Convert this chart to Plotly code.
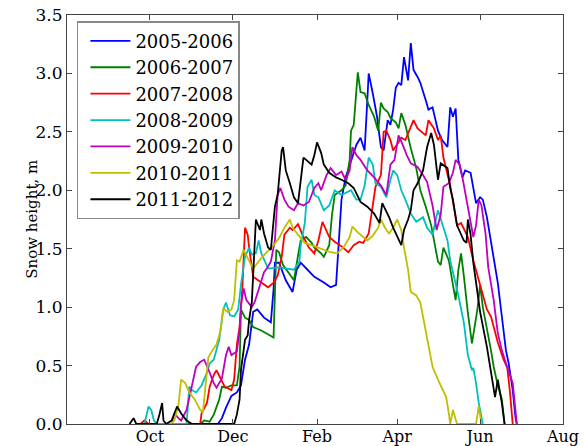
import pandas as pd
import plotly.graph_objects as go

# Season labels and colours
seasons = ["2005-2006", "2006-2007", "2007-2008", "2008-2009",
           "2009-2010", "2010-2011", "2011-2012"]
colors = ["#0000ff", "#008000", "#ff0000", "#00bfbf", "#bf00bf", "#bfbf00", "#000000"]

# Day of season (days since 1 Aug) and snow height (m)
day_0506 = [106,111,114,117,121,125,128,131,134,137,140,145,150,152,153,156,161,166,169,172,177,182,189,194,198,200,202,205,209,213,216,219,221,222,225,228,231,233,236,238,240,242,244,246,248,251,253,255,258,260,264,266,269,273,276,280,282,284,286,288,291,293,297,301,304,306,309,313,317,320,323,325,328,330,331]
h_0506 = [0,0,0.05,0.14,0.24,0.27,0.33,0.55,0.68,0.96,0.98,0.91,0.87,1.15,1.38,1.38,1.23,1.13,1.32,1.38,1.32,1.26,1.21,1.17,1.19,1.57,1.92,2.11,2.26,2.39,2.45,2.34,2.77,3.00,2.83,2.64,2.37,2.34,2.60,2.56,2.69,2.88,2.92,2.90,3.14,2.94,3.26,3.03,2.97,2.92,2.77,2.69,2.71,2.51,2.43,2.37,2.71,2.63,2.70,2.26,2.11,2.17,2.15,1.89,1.94,1.92,1.77,1.49,1.21,0.92,0.63,0.52,0.29,0.06,0]

day_0607 = [98,101,105,108,112,114,117,121,125,127,128,131,134,137,143,149,152,154,156,159,163,167,171,172,176,180,182,187,189,193,195,197,202,205,208,209,211,214,216,219,222,226,229,231,233,236,238,242,244,246,249,253,257,260,264,268,273,275,277,281,284,286,288,290,292,295,298,302,304,306,312,314,317,320,322]
h_0607 = [0,0.03,0.02,0.08,0.21,0.32,0.31,0.33,0.33,0.49,0.98,0.91,0.89,0.83,0.80,0.76,0.74,1.49,1.47,1.36,1.29,1.23,1.51,1.57,1.60,1.55,1.51,1.46,1.43,1.53,1.79,1.96,2.00,2.04,2.26,2.51,2.56,3.01,2.84,2.83,2.73,2.63,2.51,2.75,2.70,2.67,2.62,2.58,2.53,2.66,2.56,2.36,2.19,2.00,1.86,1.70,1.39,1.36,1.51,1.40,1.19,1.06,1.32,1.46,1.27,0.95,0.69,0.98,1.19,1.00,0.63,0.49,0.33,0.21,0]

day_0708 = [54,57,60,98,99,103,105,108,110,113,116,121,123,125,127,129,131,133,134,137,143,148,152,155,158,160,164,166,170,174,178,182,185,188,193,197,202,207,211,215,218,222,225,227,231,233,235,238,240,246,249,253,255,258,264,266,270,273,275,277,282,287,290,295,299,304,309,312,317,321,324,326,328]
h_0708 = [0,0.03,0,0,0.09,0.18,0.32,0.42,0.46,0.39,0.32,0.29,0.38,0.68,0.83,1.15,1.68,1.62,1.51,1.26,1.21,1.17,1.21,1.27,1.43,1.62,1.68,1.66,1.71,1.60,1.51,1.46,1.57,1.73,1.60,1.56,1.52,1.47,1.53,1.56,1.55,1.63,1.87,2.03,2.13,2.50,2.51,2.43,2.34,2.45,2.43,2.55,2.60,2.53,2.47,2.60,2.53,2.43,2.47,2.28,2.04,1.70,1.72,1.60,1.40,1.19,0.98,0.92,0.70,0.56,0.48,0.27,0]

day_0809 = [55,57,60,62,64,66,88,90,92,95,99,103,105,108,112,115,117,120,123,126,128,131,134,136,139,141,143,148,156,161,167,171,172,175,177,180,182,185,189,193,197,202,205,209,213,216,219,222,225,227,231,235,238,240,243,246,249,253,257,262,265,269,273,275,277,280,282,288,292,295,298,299,301,303,306]
h_0809 = [0,0,0.15,0.12,0.03,0,0,0.32,0.29,0.27,0.33,0.44,0.52,0.55,0.72,0.98,1.04,0.93,0.92,0.98,1.19,1.43,1.51,1.45,1.46,1.57,1.46,1.33,1.34,1.33,1.32,1.39,1.53,1.72,2.03,2.09,1.96,1.94,1.83,1.87,2.00,1.96,1.98,2.00,1.92,1.92,2.04,2.28,2.22,2.06,2.03,1.94,2.09,2.17,2.13,2.00,1.92,1.80,1.73,1.77,1.68,1.62,1.83,1.75,1.68,1.57,1.40,1.10,0.87,0.59,0.46,0.48,0.35,0.18,0]

day_0910 = [77,79,82,84,88,92,95,98,101,105,108,110,114,117,119,121,125,127,128,130,132,136,138,141,145,147,150,153,155,157,160,163,167,170,174,178,182,185,187,191,194,198,202,205,208,210,213,216,221,226,231,235,238,241,244,247,250,253,258,262,265,269,272,275,277,281,284,286,289,291,295,299,301,303,305,308,310,314,317,320,323,328,330,331]
h_0910 = [0,0.09,0.05,0.03,0.12,0.33,0.49,0.53,0.55,0.44,0.35,0.31,0.39,0.59,0.66,0.59,0.62,0.80,1.02,1.16,1.06,1.00,1.04,1.15,1.30,1.33,1.39,1.57,1.96,2.02,1.92,1.86,1.83,1.89,1.87,1.90,2.02,2.06,2.00,2.13,2.19,2.13,2.16,2.09,2.17,2.37,2.30,2.26,2.17,2.11,2.04,1.96,2.22,2.26,2.47,2.39,2.30,2.23,2.20,2.13,2.07,1.87,1.66,1.79,2.03,2.06,2.15,2.26,2.22,2.11,1.86,1.60,1.70,1.92,1.87,1.63,1.34,1.06,0.78,0.63,0.52,0.35,0.12,0]

day_1011 = [76,79,82,84,87,90,94,98,100,102,104,107,110,113,115,118,121,123,125,127,130,133,137,143,147,152,156,160,164,166,170,175,180,185,189,194,199,204,208,210,214,218,221,225,229,231,234,237,240,243,246,248,251,253,257,260,263,266,269,273,279,281,282,284,287,301,303,305]
h_1011 = [0,0.03,0.16,0.38,0.35,0.27,0.21,0.12,0.10,0.33,0.57,0.63,0.68,0.80,0.99,0.96,0.98,1.06,1.40,1.39,1.49,1.42,1.33,1.42,1.47,1.53,1.59,1.68,1.75,1.68,1.62,1.55,1.53,1.51,1.49,1.47,1.46,1.52,1.60,1.69,1.64,1.60,1.57,1.61,1.68,1.75,1.68,1.63,1.68,1.75,1.66,1.51,1.32,1.13,1.10,1.04,0.85,0.66,0.49,0.38,0.23,0.09,0,0.12,0,0,0.15,0]

day_1112 = [46,49,51,66,68,70,71,73,77,81,84,88,92,123,125,127,128,131,133,134,136,137,138,139,142,143,145,148,150,153,155,156,158,159,161,164,167,170,172,174,176,180,182,184,187,189,193,198,202,207,211,216,221,226,230,232,237,240,246,248,251,253,255,258,262,265,268,270,273,275,280,282,284,287,292,294,295,297,299,304,309,313,315,317,320,322]
h_1112 = [0,0.05,0,0,0.08,0.18,0.03,0,0.03,0.15,0.09,0.03,0,0,0.08,0.21,0.46,0.72,0.76,0.89,1.04,1.32,1.62,1.75,1.66,1.75,1.63,1.51,1.49,1.86,1.96,2.09,2.34,2.37,2.17,2.06,1.94,1.89,2.09,2.28,2.26,2.22,2.30,2.41,2.32,2.22,2.15,2.11,2.09,2.06,2.02,1.90,1.86,1.80,1.72,1.89,1.77,1.68,1.53,1.66,1.75,1.83,2.00,2.06,2.17,2.37,2.49,2.39,2.09,2.23,2.19,2.02,1.92,1.70,1.57,1.55,1.75,1.62,1.38,0.96,0.66,0.35,0.23,0.38,0.18,0]

# Axis ticks
tick_dates = ["2001-10-01", "2001-12-01", "2002-02-01", "2002-04-01", "2002-06-01", "2002-08-01"]
tick_labels = ["Oct", "Dec", "Feb", "Apr", "Jun", "Aug"]
y_ticks = [0, 0.5, 1.0, 1.5, 2.0, 2.5, 3.0, 3.5]

season_start = pd.Timestamp("2001-08-01")
all_days = [day_0506, day_0607, day_0708, day_0809, day_0910, day_1011, day_1112]
all_h = [h_0506, h_0607, h_0708, h_0809, h_0910, h_1011, h_1112]

fig = go.Figure()
for name, col, d, h in zip(seasons, colors, all_days, all_h):
    x = season_start + pd.to_timedelta(d, unit="D")
    fig.add_trace(go.Scatter(x=x, y=h, mode="lines", name=name,
                             line=dict(color=col, width=1.8)))

axis_common = dict(showline=True, linecolor="#444", linewidth=1, mirror="ticks",
                   ticks="inside", ticklen=5, tickcolor="#444", showgrid=False,
                   zeroline=False, automargin=False)

fig.update_xaxes(type="date",
                 range=[season_start, season_start + pd.Timedelta(days=365)],
                 tickvals=pd.to_datetime(tick_dates), ticktext=tick_labels,
                 tickfont=dict(size=16), ticklabelstandoff=-2,
                 **axis_common)
fig.update_yaxes(range=[0, 3.5], tickvals=y_ticks,
                 ticktext=[f"{v:.1f}" for v in y_ticks],
                 tickfont=dict(size=17), **axis_common)

fig.add_annotation(text="Snow height, m", xref="paper", yref="paper",
                   x=-0.072, y=0.5, xanchor="center", yanchor="middle",
                   textangle=-90, showarrow=False,
                   font=dict(size=15, family="DejaVu Serif", color="black"))

fig.update_layout(
    width=586, height=446,
    margin=dict(l=67, r=23, t=15, b=22, autoexpand=False),
    paper_bgcolor="white", plot_bgcolor="white",
    font=dict(family="DejaVu Serif", size=17, color="black"),
    showlegend=True,
    legend=dict(x=0.02, y=0.985, xanchor="left", yanchor="top",
                bgcolor="white", bordercolor="#888", borderwidth=1.5,
                font=dict(size=18, family="DejaVu Serif"), itemwidth=40,
                indentation=7),
)

# Remove the page's default body margin so the figure fills the window exactly.
fig.write_html("out.html",
               config={"displayModeBar": False},
               post_script="document.body.style.margin='0';"
                           "document.body.style.overflow='hidden';")
